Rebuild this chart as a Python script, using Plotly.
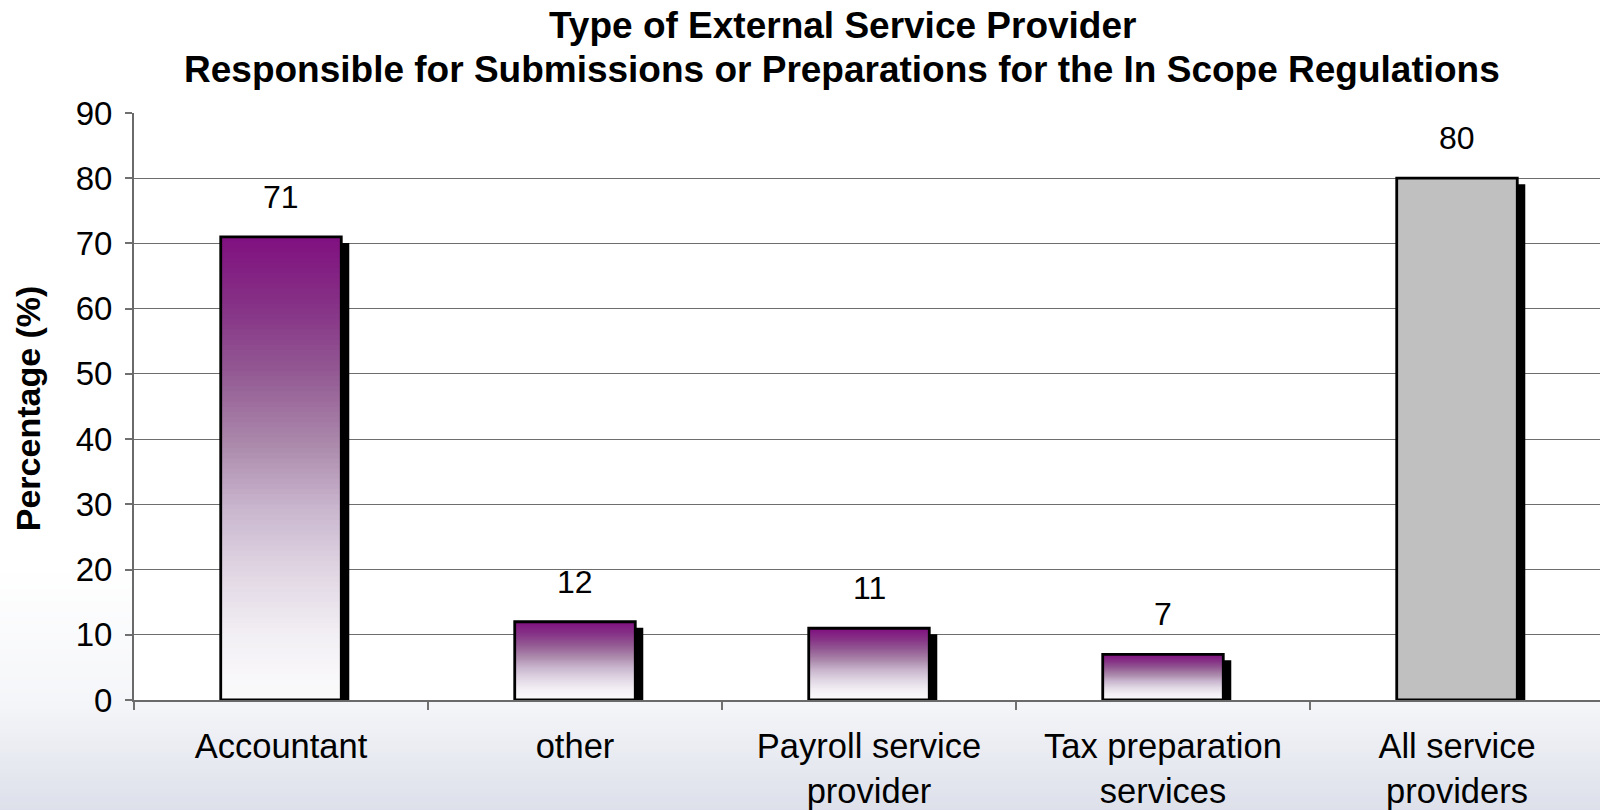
import numpy as np
import plotly.graph_objects as go

# ---- data -------------------------------------------------------------
categories = [
    "Accountant",
    "other",
    "Payroll service<br>provider",
    "Tax preparation<br>services",
    "All service<br>providers",
]
percentages = [71, 12, 11, 7, 80]
gradient_bar = [True, True, True, True, False]   # last bar is a plain grey total
y_ticks = [0, 10, 20, 30, 40, 50, 60, 70, 80, 90]

title_line1 = "Type of External Service Provider"
title_line2 = "Responsible for Submissions or Preparations for the In Scope Regulations"
y_title = "Percentage (%)"

# ---- geometry ---------------------------------------------------------
W, H = 1600, 810
M_L, M_R, M_T, M_B = 134, 0, 113, 110
plot_w = W - M_L - M_R
plot_h = H - M_T - M_B
cat_px = 294                       # pixel width of one category slot
y_max = 90
px_per_unit = plot_h / y_max
bar_w = 0.41
shadow_dx = 8 / cat_px             # shadow shift, in category units
shadow_dy = 6 / px_per_unit        # shadow shift, in percentage units

FONT = "Arial, Liberation Sans, sans-serif"

# purple -> white vertical ramp (fraction measured from the bar top)
ramp_pos = [0.0, 0.15, 0.30, 0.45, 0.58, 0.72, 0.86, 1.0]
ramp_rgb = np.array([
    [128, 16, 128],
    [134, 50, 134],
    [148, 92, 148],
    [172, 138, 172],
    [200, 180, 205],
    [224, 214, 227],
    [242, 239, 244],
    [252, 252, 252],
])


def ramp(f):
    return "rgb(%d,%d,%d)" % tuple(
        int(round(np.interp(f, ramp_pos, ramp_rgb[:, c]))) for c in range(3)
    )


fig = go.Figure()

# drop shadow behind each bar
fig.add_trace(go.Bar(
    x=categories, y=percentages,
    base=[-shadow_dy] * len(percentages),
    width=bar_w, offset=-bar_w / 2 + shadow_dx,
    marker=dict(color="black", line=dict(width=0)),
    hoverinfo="skip", showlegend=False,
))

# gradient fill: stacked slices, each reaching the bar top, lighter ones first
N = 90
gx, gbase, gy, gcol = [], [], [], []
for k in range(N):
    for cat, v, g in zip(categories, percentages, gradient_bar):
        if not g:
            continue
        b = v * k / N
        gx.append(cat)
        gbase.append(b)
        gy.append(v - b)
        gcol.append(ramp(1 - (k + 0.5) / N))
fig.add_trace(go.Bar(
    x=gx, y=gy, base=gbase, width=bar_w, offset=-bar_w / 2,
    marker=dict(color=gcol, line=dict(width=0)),
    hoverinfo="skip", showlegend=False,
))

# solid grey total bar
fig.add_trace(go.Bar(
    x=[c for c, g in zip(categories, gradient_bar) if not g],
    y=[v for v, g in zip(percentages, gradient_bar) if not g],
    width=bar_w, offset=-bar_w / 2,
    marker=dict(color="#c0c0c0", line=dict(width=0)),
    hoverinfo="skip", showlegend=False,
))

# black outlines
fig.add_trace(go.Bar(
    x=categories, y=percentages, width=bar_w, offset=-bar_w / 2,
    marker=dict(color="rgba(0,0,0,0)", line=dict(color="black", width=2.8)),
    hoverinfo="skip", showlegend=False,
))

# value labels above bars
annotations = []
for cat, v in zip(categories, percentages):
    annotations.append(dict(
        x=cat, y=v, xref="x", yref="y", text=str(v), showarrow=False,
        yanchor="bottom", yshift=20,
        font=dict(family=FONT, size=32, color="black"),
    ))

# two-line bold title
title_cx = (842 - M_L) / plot_w
for txt, py in [(title_line1, 25.5), (title_line2, 69.5)]:
    annotations.append(dict(
        x=title_cx, y=(H - M_B - py) / plot_h, xref="paper", yref="paper",
        text="<b>%s</b>" % txt, showarrow=False,
        xanchor="center", yanchor="middle",
        font=dict(family=FONT, size=37, color="black"),
    ))

# rotated y-axis title
annotations.append(dict(
    x=(28 - M_L) / plot_w, y=0.497, xref="paper", yref="paper",
    text="<b>%s</b>" % y_title, showarrow=False, textangle=-90,
    xanchor="center", yanchor="middle",
    font=dict(family=FONT, size=34, color="black"),
))

# soft grey-blue wash at the foot of the slide, white plot area on top of it
shapes = []
fx0 = -M_L / plot_w
fx1 = (W - M_L) / plot_w
wash_top, wash_mid, wash_bot = 565, 700, 810
c_top = np.array([255, 255, 255])
c_mid = np.array([245, 246, 249])
c_bot = np.array([221, 224, 234])
step = 4
for py in range(wash_top, wash_bot, step):
    yc = py + step / 2
    if yc <= wash_mid:
        t = (yc - wash_top) / (wash_mid - wash_top)
        c = c_top + (c_mid - c_top) * t
    else:
        t = (yc - wash_mid) / (wash_bot - wash_mid)
        c = c_mid + (c_bot - c_mid) * t
    shapes.append(dict(
        type="rect", xref="paper", yref="paper", layer="below",
        x0=fx0, x1=fx1,
        y0=(H - M_B - (py + step + 0.5)) / plot_h, y1=(H - M_B - py) / plot_h,
        fillcolor="rgb(%d,%d,%d)" % tuple(int(round(x)) for x in c),
        line=dict(width=0),
    ))
shapes.append(dict(
    type="rect", xref="paper", yref="paper", layer="below",
    x0=0, x1=1, y0=0, y1=1, fillcolor="white", line=dict(width=0),
))

fig.update_layout(
    width=W, height=H,
    margin=dict(l=M_L, r=M_R, t=M_T, b=M_B, pad=0),
    paper_bgcolor="white", plot_bgcolor="white",
    barmode="overlay",
    showlegend=False,
    font=dict(family=FONT, size=33, color="black"),
    annotations=annotations,
    shapes=shapes,
    xaxis=dict(
        type="category",
        range=[-0.5, -0.5 + plot_w / cat_px],
        tickson="boundaries",
        ticks="outside", ticklen=8, tickwidth=1.5, tickcolor="#707070",
        showline=True, linecolor="#6a6a6a", linewidth=2,
        showgrid=False, zeroline=False,
        tickfont=dict(family=FONT, size=34.5, color="black"),
        ticklabelstandoff=15,
        fixedrange=True,
    ),
    yaxis=dict(
        range=[0, y_max],
        tickmode="array", tickvals=y_ticks, ticktext=[str(t) for t in y_ticks],
        ticks="outside", ticklen=7, tickwidth=1.5, tickcolor="#707070",
        showline=True, linecolor="#6a6a6a", linewidth=2,
        showgrid=True, gridcolor="#6e6e6e", gridwidth=1,
        zeroline=False,
        tickfont=dict(family=FONT, size=33, color="black"),
        ticklabelstandoff=6,
        fixedrange=True,
    ),
)

fig.write_html("out.html", config={"displayModeBar": False})
